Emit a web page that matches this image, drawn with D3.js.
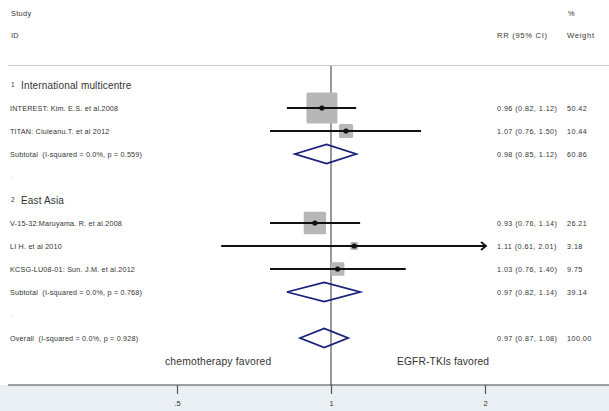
<!DOCTYPE html>
<html><head><meta charset="utf-8">
<script src="https://cdn.jsdelivr.net/npm/d3@7"></script>
<style>body{margin:0;background:#fff}svg{display:block}text{font-family:"Liberation Sans",Arial,sans-serif;white-space:pre}</style>
</head><body><svg id="c" width="609" height="411"></svg>
<script>
// Data
const rowLabels = ["1  International multicentre","INTEREST: Kim. E.S. et al.2008","TITAN: Ciuleanu.T. et al 2012","Subtotal  (I-squared = 0.0%, p = 0.559)","-","2  East Asia","V-15-32:Maruyama. R. et al.2008","LI H. et al 2010","KCSG-LU08-01: Sun. J.M. et al.2012","Subtotal  (I-squared = 0.0%, p = 0.768)","-","Overall  (I-squared = 0.0%, p = 0.928)"];
const rowTypes  = ["group","study","study","sub","blank","group","study","study","study","sub","blank","overall"];
const rr    = [null,0.96,1.07,0.98,null,null,0.93,1.11,1.03,0.97,null,0.97];
const lower = [null,0.82,0.76,0.85,null,null,0.76,0.61,0.76,0.82,null,0.87];
const upper = [null,1.12,1.50,1.12,null,null,1.14,2.01,1.40,1.14,null,1.08];
const weights = [null,50.42,10.44,60.86,null,null,26.21,3.18,9.75,39.14,null,100.00];
const ciText = ["","0.96 (0.82, 1.12)","1.07 (0.76, 1.50)","0.98 (0.85, 1.12)","","","0.93 (0.76, 1.14)","1.11 (0.61, 2.01)","1.03 (0.76, 1.40)","0.97 (0.82, 1.14)","","0.97 (0.87, 1.08)"];
const weightText = ["","50.42","10.44","60.86","","","26.21","3.18","9.75","39.14","","100.00"];
const tickValues = [0.5,1,2];
const tickLabels = [".5","1","2"];

const svg = d3.select("#c");
const x = d3.scaleLog().base(2).domain([0.5,2]).range([177,485]);
const y = d3.scaleLinear().domain([0,11]).range([85,338]);
const xMaxPx = x(2)+1;

// axis background
svg.append("rect").attr("x",0).attr("y",385).attr("width",609).attr("height",26).attr("fill","#e9eff2");
// top rule
svg.append("line").attr("x1",8).attr("x2",609).attr("y1",65.5).attr("y2",65.5).attr("stroke","#c8c8c8").attr("stroke-width",1);

const txt = "#333";
function small(xx,yy,s,fs,ls){
  return svg.append("text").attr("x",xx).attr("y",yy).attr("font-size",fs||7.2).attr("letter-spacing",ls==null?0.45:ls).attr("fill",txt).text(s);
}
// headers
small(11,16,"Study",7.4,0.3);
small(11,38,"ID",7.4,0.3);
small(497,38,"RR (95% CI)",7.6,0.7);
small(568,16,"%",7.4,0.3);
small(567,38,"Weight",7.6,0.7);

// vertical line at 1
svg.append("line").attr("x1",x(1)).attr("x2",x(1)).attr("y1",66).attr("y2",385).attr("stroke","#555").attr("stroke-width",1.2);

// rows
rowLabels.forEach((lab,i)=>{
  const yy = y(i);
  const t = rowTypes[i];
  if (t==="group") {
    const parts = lab.split("  ");
    svg.append("text").attr("x",11).attr("y",yy+2).attr("font-size",6.5).attr("fill",txt).text(parts[0]);
    svg.append("text").attr("x",21).attr("y",yy+3.5).attr("font-size",10).attr("letter-spacing",0.15).attr("fill",txt).text(parts[1]);
  } else if (t==="blank") {
    svg.append("text").attr("x",11).attr("y",yy+2).attr("font-size",6).attr("fill","#bbb").text(lab);
  } else {
    small(10,yy+2.5,lab,7.2,0.2);
    small(497,yy+2.5,ciText[i]);
    small(567,yy+2.5,weightText[i]);
  }
  if (t==="study") {
    const s = 31*Math.sqrt(weights[i]/50.42);
    svg.append("rect").attr("x",x(rr[i])-s/2).attr("y",yy-s/2).attr("width",s).attr("height",s).attr("rx",1.5).attr("fill","#b7b7b7");
    const x2 = upper[i] > 2 ? xMaxPx : x(upper[i]);
    svg.append("line").attr("x1",x(lower[i])).attr("x2",x2).attr("y1",yy).attr("y2",yy).attr("stroke","#111").attr("stroke-width",1.8);
    if (upper[i] > 2) {
      svg.append("path").attr("d",`M${x2-5},${yy-4}L${x2},${yy}L${x2-5},${yy+4}`).attr("fill","none").attr("stroke","#111").attr("stroke-width",1.8);
    }
    svg.append("circle").attr("cx",x(rr[i])).attr("cy",yy).attr("r",2.6).attr("fill","#111");
  }
  if (t==="sub" || t==="overall") {
    const h = 9.5;
    svg.append("path").attr("d",`M${x(lower[i])},${yy}L${x(rr[i])},${yy-h}L${x(upper[i])},${yy}L${x(rr[i])},${yy+h}Z`)
      .attr("fill","none").attr("stroke","#1a1f7a").attr("stroke-width",1.8);
  }
});

// favored labels
svg.append("text").attr("x",165).attr("y",364.5).attr("font-size",10.3).attr("letter-spacing",0.2).attr("fill",txt).text("chemotherapy favored");
svg.append("text").attr("x",397).attr("y",364.5).attr("font-size",10.3).attr("letter-spacing",0.1).attr("fill",txt).text("EGFR-TKIs favored");

// axis
const ax = svg.append("g").attr("transform","translate(0,385)");
ax.append("line").attr("x1",8).attr("x2",609).attr("y1",0).attr("y2",0).attr("stroke","#444").attr("stroke-width",1.2);
const axis = d3.axisBottom(x).tickValues(tickValues).tickFormat((d,i)=>tickLabels[i]).tickSize(9).tickPadding(7);
const ag = ax.append("g").call(axis);
ag.select(".domain").remove();
ag.selectAll(".tick line").attr("stroke","#555").attr("stroke-width",1.2);
ag.selectAll(".tick text").attr("font-size",7.5).attr("fill",txt).attr("font-family","Liberation Sans, Arial, sans-serif");
</script></body></html>
